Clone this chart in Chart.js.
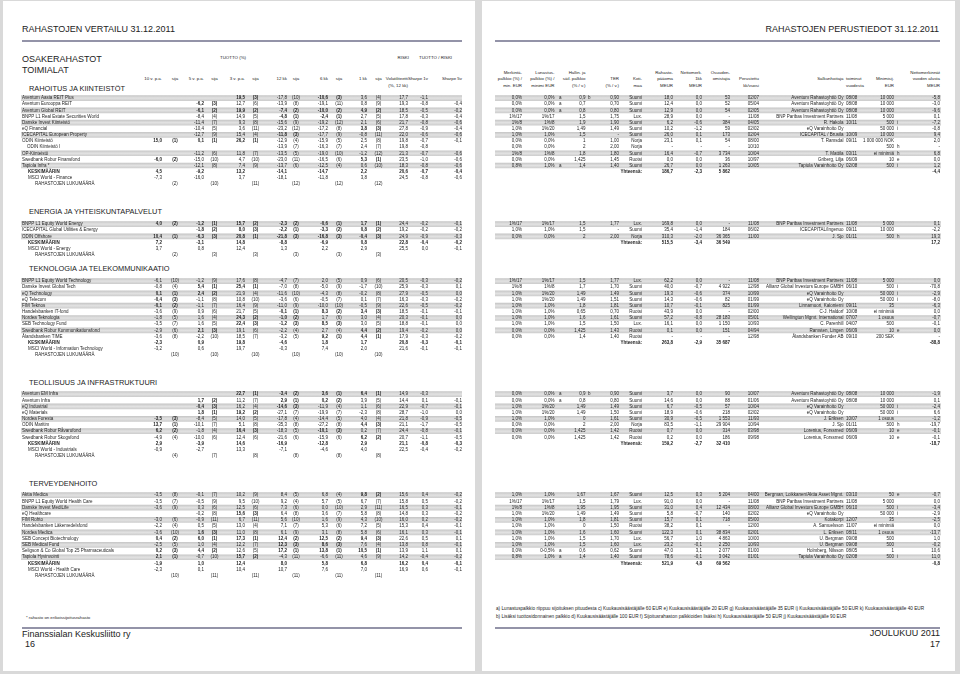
<!DOCTYPE html>
<html lang="fi">
<head>
<meta charset="utf-8">
<title>Rahastojen vertailu 31.12.2011</title>
<script src="https://cdn.jsdelivr.net/npm/chart.js@4.4.0/dist/chart.umd.min.js"></script>
<style>
  html, body { margin: 0; padding: 0; }
  body { position: relative; width: 960px; height: 674px; overflow: hidden; background: #d9d9d9;
         font-family: "Liberation Sans", Arial, Helvetica, sans-serif; color: #222; }
  .page { position: absolute; top: 1px; height: 670px; background: #fff; }
  .rule { position: absolute; height: 2px; background: #9393a8; }
  .t { position: absolute; white-space: nowrap; line-height: 1; }
  canvas { position: absolute; left: 0; }
</style>
</head>
<body>
<div class="page" style="left:3px;width:472px"></div>
<div class="page" style="left:482px;width:473px"></div>
<div class="rule" style="left:22px;width:440px;top:40px"></div>
<div class="rule" style="left:495px;width:445px;top:40px"></div>
<div class="rule" style="left:22px;width:440px;top:627px"></div>
<div class="rule" style="left:495px;width:445px;top:627px"></div>
<script>
// returns rows: 10 v, sija, 5 v, sija, 3 v, sija, 12 kk, sija, 6 kk, sija, 1 kk, sija
// risk rows: volatiliteetti, sharpe 1v, sharpe 5v
// basics rows: merkintä, lunastus, hallin., TER, kotimaa, pääoma, nettomerk. 1kk, osuudenomistajia,
//              perustettu, salkunhoitaja, minimisij., nettomerkinnät vuoden alusta

// --- RAHOITUS JA KIINTEISTÖT ---
const finFunds = ['Aventum Aasia REIT Plus', 'Aventum Eurooppa REIT', 'Aventum Global REIT',
  'BNPP L1 Real Estate Securities World', 'Danske Invest Kiinteistö', 'eQ Financial',
  'ICECAPITAL European Property', 'ODIN Kiinteistö', 'ODIN Kiinteistö I', 'OP-Kiinteistö',
  'Swedbank Robur Finansfond', 'Tapiola Infra *'];
const finSubRows = [8];
const finReturns = [
  [null, null, null, null, 19.5, 3, -17.8, 10, -10.6, 3, 3.6, 4],
  [null, null, -6.2, 3, 12.7, 6, -13.9, 8, -19.1, 11, 0.8, 9],
  [null, null, -6.1, 2, 19.9, 2, -7.4, 2, -10.0, 2, 4.9, 2],
  [null, null, -8.4, 4, 14.9, 5, -4.8, 1, -2.4, 1, 2.7, 5],
  [null, null, -11.4, 7, 9.3, 8, -15.6, 9, -19.2, 12, 2.1, 6],
  [null, null, -10.4, 5, 3.6, 11, -23.2, 12, -17.2, 8, 3.8, 3],
  [null, null, -12.7, 9, 15.4, 4, -11.8, 3, -17.7, 9, -0.8, 11],
  [15.0, 1, 0.1, 1, 26.2, 1, -12.9, 4, -15.9, 5, 2.5, 8],
  [null, null, null, null, null, null, -13.9, 7, -16.3, 7, 2.4, 7],
  [null, null, -11.2, 6, 11.8, 7, -13.5, 5, -19.0, 10, -1.2, 12],
  [-6.0, 2, -15.0, 10, 4.7, 10, -23.0, 11, -16.5, 6, 5.3, 1],
  [null, null, -12.1, 8, 7.4, 9, -13.7, 6, -12.5, 4, 0.6, 10]
];
const finRisk = [[17.7, -1.1, null], [19.3, -0.8, -0.4], [18.5, -0.5, -0.2], [17.8, -0.3, -0.4],
  [21.7, -0.8, -0.6], [27.8, -0.9, -0.4], [22.0, -0.6, -0.6], [19.8, -0.7, -0.1], [19.8, -0.8, null],
  [21.3, -0.7, -0.6], [23.5, -1.0, -0.6], [18.3, -0.8, -0.6]];
const finAvg = [4.5, -9.2, 13.2, -14.1, -14.7, 2.2, 20.6, -0.7, -0.4];
const finIndexName = 'MSCI World - Finance';
const finIndex = [-7.3, -16.0, 3.7, -18.1, -11.8, 3.8, 24.5, -0.8, -0.6];
const finCount = [2, 10, 11, 12, 12, 12];
const finBasics = [
  ['0,0%', '0,0% a', '0,9 b', '0,90', 'Suomi', '18,0', '0,0', '53', '02/07', 'Aventum Rahastoyhtiö Oy 08/08', '10 000', '-5,8'],
  ['0,0%', '0,0% a', '0,7', '0,70', 'Suomi', '12,4', '0,0', '52', '05/04', 'Aventum Rahastoyhtiö Oy 08/08', '10 000', '-3,0'],
  ['0,0%', '0,0% a', '0,8', '0,80', 'Suomi', '12,9', '0,0', '54', '02/05', 'Aventum Rahastoyhtiö Oy 08/08', '10 000', '-9,6'],
  ['1%/17', '1%/17', '1,5', '1,75', 'Lux.', '28,9', '0,0', '-', '11/08', 'BNP Paribas Investment Partners 11/08', '5 000', '0,1'],
  ['1%/8', '1%/8', '1,9', '1,90', 'Suomi', '6,2', '-0,6', '384', '04/05', 'R. Hakola 10/11', '500 i', '-7,2'],
  ['1,0%', '1%/20', '1,49', '1,49', 'Suomi', '10,2', '-1,2', '59', '02/02', 'eQ Varainhoito Oy', '50 000 i', '-0,8'],
  ['1,0%', '1,0%', '1,5', '-', 'Suomi', '26,0', '0,1', '173', '02/04', 'ICECAPITAL / Brusila 10/09', '10 000', '9,4'],
  ['0,0%', '0,0%', '1', '1,00', 'Norja', '23,1', '0,1', '54', '08/00', 'T. Ramsdal 09/11', '1 000 000 NOK', '2,0'],
  ['0,0%', '0,0%', '2', '2,00', 'Norja', '-', '-', '-', '10/10', '', '500 h', '-'],
  ['1%/8', '1%/8', '1,8', '1,80', 'Suomi', '16,4', '-0,7', '3 734', '10/04', 'T. Mattila 03/11', 'ei minimiä h', '6,8'],
  ['0,0%', '0,0%', '1,425', '1,45', 'Ruotsi', '0,0', '0,0', '36', '10/97', 'Griberg, Lilja 06/09', '10 e', '0,0'],
  ['0,8%', '1,0% a', '1,4', '1,40', 'Suomi', '26,7', '0,0', '1 263', '10/05', 'Tapiola Varainhoito Oy 02/08', '500 i', '1,2']
];
const finTotal = ['186,7', '-2,3', '5 862', '-4,4'];

// --- ENERGIA JA YHTEISKUNTAPALVELUT ---
const enFunds = ['BNPP L1 Equity World Energy', 'ICECAPITAL Global Utilities & Energy', 'ODIN Offshore'];
const enReturns = [
  [4.0, 2, -1.2, 1, 15.7, 2, -2.3, 2, -0.6, 1, 1.7, 1],
  [null, null, -1.8, 2, 8.0, 3, -2.2, 1, -3.3, 2, 0.8, 2],
  [10.4, 1, -6.3, 3, 20.8, 1, -21.8, 3, -16.8, 3, -0.4, 3]
];
const enRisk = [[24.4, -0.2, -0.1], [19.2, -0.2, -0.2], [24.9, -0.9, -0.3]];
const enAvg = [7.2, -3.1, 14.8, -8.8, -6.9, 0.8, 22.8, -0.4, -0.2];
const enIndexName = 'MSCI World - Energy';
const enIndex = [3.7, 0.8, 12.4, 1.3, 2.2, 2.9, 25.5, 0.0, -0.1];
const enCount = [2, 3, 3, 3, 3, 3];
const enBasics = [
  ['1%/17', '1%/17', '1,5', '1,77', 'Lux.', '169,8', '0,0', '-', '11/08', 'BNP Paribas Investment Partners 11/08', '5 000', '0,1'],
  ['1,0%', '1,0%', '1,5', '-', 'Suomi', '35,4', '-1,4', '184', '06/02', 'ICECAPITAL/Ingenuo 09/11', '10 000', '-2,2'],
  ['0,0%', '0,0%', '2', '2,00', 'Norja', '310,3', '-2,0', '36 365', '11/00', 'J. Sjo 01/11', '500 h', '19,3']
];
const enTotal = ['515,5', '-3,4', '36 549', '17,2'];

// --- TEKNOLOGIA JA TELEKOMMUNIKAATIO ---
const techFunds = ['BNPP L1 Equity World Technology', 'Danske Invest Global Tech', 'eQ Technology',
  'eQ Telecom', 'FIM Teknos', 'Handelsbanken IT-fond', 'Nordea Teknologia', 'SEB Technology Fund',
  'Swedbank Robur Kommunikationsfond', 'Ålandsbanken TIME'];
const techReturns = [
  [-6.1, 10, -1.2, 9, 17.6, 8, -4.7, 7, 2.0, 5, 0.9, 6],
  [-0.8, 4, 5.4, 1, 25.4, 1, -7.0, 8, -5.0, 9, -1.7, 10],
  [0.1, 1, 2.4, 2, 21.9, 4, -11.6, 10, -4.3, 8, -0.2, 8],
  [-0.4, 3, -1.1, 8, 10.8, 10, -3.6, 6, -0.5, 7, 0.1, 7],
  [-0.1, 2, -1.1, 7, 16.4, 9, -11.0, 9, -10.0, 10, -0.5, 9],
  [-3.6, 9, 0.9, 6, 21.7, 5, -0.1, 1, 8.3, 2, 3.4, 3],
  [-1.8, 5, 1.6, 4, 24.3, 2, -1.0, 2, 1.7, 6, 3.0, 4],
  [-3.5, 7, 1.6, 5, 22.4, 3, -1.2, 3, 8.5, 3, 3.0, 5],
  [-2.9, 6, 2.1, 3, 19.1, 6, -2.2, 4, 2.7, 4, 4.4, 2],
  [-3.6, 8, -2.2, 10, 18.5, 7, -3.2, 5, 9.2, 1, 4.4, 1]
];
const techRisk = [[20.5, -0.3, -0.2], [25.9, -0.3, 0.1], [27.9, -0.5, 0.0], [16.3, -0.3, -0.2],
  [22.6, -0.5, -0.2], [18.5, -0.1, -0.1], [20.3, -0.1, 0.0], [18.8, -0.1, 0.0], [19.4, -0.2, 0.0],
  [17.9, -0.3, -0.2]];
const techAvg = [-2.3, 0.9, 19.8, -4.6, 1.8, 1.7, 20.8, -0.3, -0.1];
const techIndexName = 'MSCI World - Information Technology';
const techIndex = [-3.2, 0.6, 19.7, -0.3, 7.4, 2.0, 21.6, -0.1, -0.1];
const techCount = [10, 10, 10, 10, 10, 10];
const techBasics = [
  ['1%/17', '1%/17', '1,5', '1,77', 'Lux.', '62,2', '0,0', '-', '11/08', 'BNP Paribas Investment Partners 11/08', '5 000', '0,0'],
  ['1%/8', '1%/8', '1,7', '1,70', 'Suomi', '40,0', '-0,7', '4 922', '12/98', 'Allianz Global Investors Europe GMBH 06/10', '500 i', '-70,8'],
  ['1,0%', '1%/20', '1,49', '1,49', 'Suomi', '19,3', '-0,6', '374', '10/99', 'eQ Varainhoito Oy', '50 000 i', '-2,9'],
  ['1,0%', '1%/20', '1,49', '1,51', 'Suomi', '14,3', '-0,6', '82', '01/99', 'eQ Varainhoito Oy', '50 000 i', '-8,0'],
  ['1,0%', '1,0%', '1,8', '1,81', 'Suomi', '10,7', '-0,1', '825', '01/99', 'Linnamuori, Kaloniemi 09/11', '35', '-6,3'],
  ['1,0%', '1,0%', '0,65', '0,70', 'Ruotsi', '43,9', '0,0', '-', '02/00', 'C-J. Haldorf 10/08', 'ei minimiä', '0,0'],
  ['1,0%', '1,0%', '1,6', '1,61', 'Suomi', '57,2', '-0,8', '28 183', '05/01', 'Wellington Mgmt. International 07/07', '1 osuus', '-0,7'],
  ['1,0%', '1,0%', '1,5', '1,50', 'Lux.', '16,1', '0,0', '1 150', '10/93', 'C. Parenhill 04/07', '500', '-0,1'],
  ['0,0%', '0,0%', '1,425', '1,43', 'Ruotsi', '0,1', '0,0', '151', '04/94', 'Ramsten, Lingen 06/09', '10 e', '0,0'],
  ['0,0%', '0,0%', '1,4', '1,40', 'Ruotsi', '-', '-', '-', '12/98', 'Ålandsbanken Fonder AB 09/10', '200 SEK', '-']
];
const techTotal = ['263,8', '-2,9', '35 687', '-88,8'];

// --- TEOLLISUUS JA INFRASTRUKTUURI ---
const indFunds = ['Aventum EM Infra', 'Aventum Infra', 'eQ Industrial', 'eQ Materials', 'Nordea Foresta',
  'ODIN Maritim', 'Swedbank Robur Råvarufond', 'Swedbank Robur Skogsfond'];
const indReturns = [
  [null, null, null, null, 22.7, 1, -3.4, 2, 3.6, 1, 6.4, 1],
  [null, null, 1.7, 2, 11.2, 7, 2.9, 1, 0.2, 2, 3.9, 5],
  [null, null, -0.4, 3, 16.2, 4, -14.6, 3, -11.9, 4, 1.1, 6],
  [null, null, 1.8, 1, 19.2, 2, -27.1, 7, -19.9, 7, -2.3, 8],
  [-3.5, 3, -8.4, 5, 14.0, 5, -17.8, 4, -14.4, 5, 4.0, 4],
  [13.7, 1, -10.1, 7, 5.1, 8, -35.3, 8, -27.2, 8, 4.4, 3],
  [6.2, 2, -1.8, 4, 16.4, 3, -18.3, 5, -10.1, 3, 0.2, 7],
  [-4.9, 4, -10.0, 6, 12.4, 6, -21.6, 6, -15.9, 6, 6.2, 2]
];
const indRisk = [[14.9, -0.3, null], [14.4, 0.1, -0.1], [22.9, -0.7, -0.1], [28.7, -1.0, 0.0],
  [21.8, -0.9, -0.5], [21.1, -1.7, -0.5], [24.4, -0.8, -0.1], [20.7, -1.1, -0.5]];
const indAvg = [2.9, -3.9, 14.6, -16.9, -12.8, 2.9, 21.1, -0.8, -0.3];
const indIndexName = 'MSCI World - Industrials';
const indIndex = [-0.9, -2.7, 13.3, -7.1, -4.6, 4.0, 22.5, -0.4, -0.2];
const indCount = [4, 7, 8, 8, 8, 8];
const indBasics = [
  ['0,0%', '0,0% a', '0,9 b', '0,90', 'Suomi', '3,7', '0,0', '90', '10/07', 'Aventum Rahastoyhtiö Oy 08/08', '10 000', '-1,9'],
  ['0,0%', '0,0% a', '0,8', '0,80', 'Suomi', '14,6', '0,0', '88', '01/06', 'Aventum Rahastoyhtiö Oy 08/08', '10 000', '0,1'],
  ['1,0%', '1%/20', '1,49', '1,49', 'Suomi', '6,7', '-0,5', '57', '10/04', 'eQ Varainhoito Oy', '50 000 i', '-2,4'],
  ['1,0%', '1%/20', '1,49', '1,50', 'Suomi', '18,9', '-0,6', '218', '02/02', 'eQ Varainhoito Oy', '50 000 i', '6,6'],
  ['1,0%', '1,0%', '0', '1,61', 'Suomi', '30,9', '-0,5', '1 553', '11/93', 'J. Eriksen 10/07', '1 osuus', '-1,2'],
  ['0,0%', '0,0%', '2', '2,00', 'Norja', '83,5', '-1,1', '29 904', '10/94', 'J. Sjo 01/11', '500 h', '-19,7'],
  ['0,0%', '0,0%', '1,425', '1,42', 'Ruotsi', '0,7', '0,0', '314', '03/98', 'Lorenius, Forssmed 06/09', '10 e', '-0,1'],
  ['0,0%', '0,0%', '1,425', '1,42', 'Ruotsi', '0,2', '0,0', '186', '09/98', 'Lorenius, Forssmed 06/09', '10 e', '-0,1']
];
const indTotal = ['159,2', '-2,7', '32 410', '-18,7'];

// --- TERVEYDENHOITO ---
const healthFunds = ['Aktia Medica', 'BNPP L1 Equity World Health Care', 'Danske Invest MediLife',
  'eQ Healthcare', 'FIM Rohto', 'Handelsbanken Läkemedelsfond', 'Nordea Medica',
  'SEB Concept Biotechnology', 'SEB Medical Fund', 'Seligson & Co Global Top 25 Pharmaceuticals',
  'Tapiola Hyvinvointi'];
const healthReturns = [
  [-3.5, 8, -0.1, 7, 10.2, 9, 8.4, 5, 6.8, 4, 9.8, 2],
  [-3.5, 7, -0.5, 9, 9.5, 10, 9.2, 4, 5.7, 5, 6.7, 7],
  [-3.6, 9, 0.3, 6, 12.5, 6, 7.3, 6, 0.0, 10, 2.9, 11],
  [null, null, -0.2, 8, 15.6, 3, 6.4, 8, 3.6, 7, 5.8, 8],
  [-3.0, 6, -0.9, 11, 6.7, 11, 5.6, 10, 1.6, 9, 4.3, 10],
  [-2.2, 4, 0.5, 5, 13.0, 4, 7.1, 7, 5.3, 6, 7.2, 5],
  [-3.6, 10, 1.6, 3, 11.0, 8, 6.1, 9, 3.1, 8, 5.8, 6],
  [0.4, 2, 6.0, 1, 17.3, 1, 12.4, 2, 12.5, 2, 9.4, 3],
  [-2.5, 5, 1.0, 4, 12.2, 7, 12.3, 3, 8.6, 3, 7.6, 4],
  [0.2, 3, 4.4, 2, 12.6, 5, 17.2, 1, 13.8, 1, 10.5, 1],
  [2.1, 1, -0.7, 10, 15.7, 2, -4.3, 11, -6.6, 11, 4.6, 9]
];
const healthRisk = [[15.6, 0.4, -0.2], [15.8, 0.5, -0.2], [16.5, 0.3, -0.1], [14.8, 0.3, -0.2],
  [16.0, 0.2, -0.2], [15.3, 0.4, -0.1], [16.1, 0.3, -0.1], [22.6, 0.5, 0.1], [13.8, 0.8, -0.1],
  [13.9, 1.1, 0.1], [14.2, -0.4, -0.2]];
const healthAvg = [-1.9, 1.0, 12.4, 8.0, 5.8, 6.8, 16.2, 0.4, -0.1];
const healthIndexName = 'MSCI World - Health Care';
const healthIndex = [-2.3, 0.1, 10.4, 10.7, 7.6, 7.0, 16.9, 0.6, -0.1];
const healthCount = [10, 11, 11, 11, 11, 11];
const healthBasics = [
  ['1,0%', '1,0%', '1,67', '1,67', 'Suomi', '12,5', '0,3', '5 204', '04/00', 'Bergman, Loikkanen/Aktia Asset Mgmt. 03/10', '50 e', '-0,7'],
  ['1%/17', '1%/17', '1,5', '1,79', 'Lux.', '91,0', '0,0', '-', '11/08', 'BNP Paribas Investment Partners 11/08', '5 000', '0,0'],
  ['1%/8', '1%/8', '1,95', '1,95', 'Suomi', '31,0', '0,4', '12 434', '08/00', 'Allianz Global Investors Europe GMBH 06/10', '500 i', '-3,4'],
  ['1,0%', '1%/20', '1,49', '1,49', 'Suomi', '5,8', '-0,7', '140', '02/02', 'eQ Varainhoito Oy', '50 000 i', '-2,9'],
  ['1,0%', '1,0%', '1,8', '1,81', 'Suomi', '15,7', '0,1', '718', '05/00', 'Kotakorpi 12/07', '35', '-2,5'],
  ['1,0%', '1,0%', '0', '1,50', 'Ruotsi', '38,2', '0,1', '-', '12/00', 'A. Samuelsson 11/07', 'ei minimiä', '0,0'],
  ['1,0%', '1,0%', '1,6', '1,60', 'Suomi', '122,3', '0,1', '38 834', '02/01', 'L. Eriksen 08/11', '1 osuus', '-13,7'],
  ['1,0%', '1,0%', '1,5', '1,70', 'Lux.', '56,7', '1,0', '4 863', '10/00', 'U. Bergman 09/08', '500', '1,0'],
  ['1,0%', '1,0%', '1,5', '1,60', 'Lux.', '23,2', '-0,1', '2 250', '10/93', 'U. Bergman 09/08', '500', '-0,2'],
  ['0,0%', '0-0,5% a', '0,6', '0,62', 'Suomi', '47,0', '3,1', '2 077', '01/00', 'Holmberg, Nilsson 08/05', '1', '10,6'],
  ['0,8%', '1,0% a', '1,4', '1,40', 'Suomi', '78,6', '-0,1', '3 042', '01/01', 'Tapiola Varainhoito Oy 02/08', '500 i', '11,0']
];
const healthTotal = ['521,9', '4,8', '69 562', '-0,8'];

// header texts
const retHeads = ['10 v. p.a.', '5 v. p.a.', '3 v. p.a.', '12 kk', '6 kk', '1 kk'];
const riskHeads = ['Volatiliteetti', 'Sharpe 1v', 'Sharpe 5v'];
const basicHeads = [
  ['Merkintä-', 'palkkio (%) /', 'min. EUR'],
  ['Lunastus-', 'palkkio (%) /', 'minimi EUR'],
  ['Hallin. ja', 'säil. palkkio', '(% / v.)'],
  ['', 'TER', '(% / v.)'],
  ['', 'Koti-', 'maa'],
  ['Rahasto-', 'pääoma', 'MEUR'],
  ['Nettomerk.', '1kk', 'MEUR'],
  ['Osuuden-', 'omistajia', ''],
  ['', 'Perustettu', 'kk/vuosi'],
  ['', '', ''],
  ['', 'Minimisij.', 'EUR'],
  ['Nettomerkinnät', 'vuoden alusta', 'MEUR']
];

// ---- layout ----
const FONT = '"Liberation Sans", Arial, Helvetica, sans-serif';
const CELL_SIZE = 4.5;
const HEAD_SIZE = 4.4;
const NAME_X = 22, SUB_X = 27, SUM_X = 28, COUNT_X = 35;
const RET_X = [162, 204, 245, 287, 328, 367];
const RANK_X = [175, 214.5, 255.5, 296, 339, 378.5];
const RISK_X = [408, 428, 462];
const BASIC_X = [522, 554.5, 585.5, 619, 642, 673, 702, 730, 759, 843.5, 894, 940];
const SALK_DATE_X = 846;
const NOTE_GAP = { 1: 4.5, 2: 2.5, 10: 3 };
const STRIPE_L = [21, 462];
const STRIPE_R = [495, 941];

const sections = [
  { title: 'RAHOITUS JA KIINTEISTÖT', titleY: 88.3, top: 95, height: 92, funds: finFunds, sub: finSubRows,
    returns: finReturns, risk: finRisk, avg: finAvg, indexName: finIndexName, index: finIndex,
    count: finCount, basics: finBasics, total: finTotal },
  { title: 'ENERGIA JA YHTEISKUNTAPALVELUT', titleY: 211.7, top: 221, height: 37, funds: enFunds, sub: [],
    returns: enReturns, risk: enRisk, avg: enAvg, indexName: enIndexName, index: enIndex,
    count: enCount, basics: enBasics, total: enTotal },
  { title: 'TEKNOLOGIA JA TELEKOMMUNIKAATIO', titleY: 269, top: 278, height: 80, funds: techFunds, sub: [],
    returns: techReturns, risk: techRisk, avg: techAvg, indexName: techIndexName, index: techIndex,
    count: techCount, basics: techBasics, total: techTotal },
  { title: 'TEOLLISUUS JA INFRASTRUKTUURI', titleY: 382.7, top: 391, height: 68, funds: indFunds, sub: [],
    returns: indReturns, risk: indRisk, avg: indAvg, indexName: indIndexName, index: indIndex,
    count: indCount, basics: indBasics, total: indTotal },
  { title: 'TERVEYDENHOITO', titleY: 484, top: 492, height: 87, funds: healthFunds, sub: [],
    returns: healthReturns, risk: healthRisk, avg: healthAvg, indexName: healthIndexName, index: healthIndex,
    count: healthCount, basics: healthBasics, total: healthTotal }
];

const fmt = v => (v === null || v === undefined) ? '' : v.toFixed(1).replace('.', ',');

function text(str, x, y, size, align, bold) {
  const d = document.createElement('div');
  d.className = 't';
  d.textContent = str;
  d.style.fontSize = size + 'px';
  d.style.top = (y - size / 2) + 'px';
  if (align === 'right') d.style.right = (960 - x) + 'px';
  else if (align === 'center') { d.style.left = x + 'px'; d.style.transform = 'translateX(-50%)'; }
  else d.style.left = x + 'px';
  if (bold) d.style.fontWeight = 'bold';
  document.body.appendChild(d);
}

// page titles and headers
text('RAHASTOJEN VERTAILU 31.12.2011', 22, 29, 9);
text('RAHASTOJEN PERUSTIEDOT 31.12.2011', 939, 29, 9, 'right');
text('OSAKERAHASTOT', 22, 59, 9);
text('TOIMIALAT', 22, 70, 9);
text('TUOTTO (%)', 220, 58, HEAD_SIZE);
text('RISKI', 409, 58, HEAD_SIZE, 'right');
text('TUOTTO / RISKI', 419, 58, HEAD_SIZE);
retHeads.forEach((h, k) => {
  text(h, RET_X[k], 79.5, HEAD_SIZE, 'right');
  text('sija', RANK_X[k], 79.5, HEAD_SIZE, 'center');
});
riskHeads.forEach((h, k) => text(h, RISK_X[k], 79.5, HEAD_SIZE, 'right'));
text('(%, 12 kk)', RISK_X[0], 86, HEAD_SIZE, 'right');
basicHeads.forEach((lines, k) => {
  lines.forEach((h, l) => { if (h) text(h, BASIC_X[k], 73 + l * 6.5, HEAD_SIZE, 'right'); });
});
text('Salkunhoitaja', BASIC_X[9], 79.5, HEAD_SIZE, 'right');
text('toiminut', SALK_DATE_X, 79.5, HEAD_SIZE);
text('vuodesta', SALK_DATE_X, 86, HEAD_SIZE);
sections.forEach(s => text(s.title, 29, s.titleY, 7.4));

// footers
text('* rahasto on erikoissijoitusrahasto', 26, 617.7, 4.3);
text('Finanssialan Keskusliitto ry', 22, 634.3, 9);
text('16', 25, 644.5, 9);
text('a) Lunastuspalkkio riippuu sijoituksen pituudesta c) Kuukausisäästäjälle 60 EUR e) Kuukausisäästäjälle 20 EUR g) Kuukausisäästäjälle 35 EUR i) Kuukausisäästäjälle 50 EUR k) Kuukausisäästäjälle 40 EUR', 496, 609.3, 4.7);
text('b) Lisäksi tuottosidonnainen palkkio d) Kuukausisäästäjälle 100 EUR f) Sijoitusrahaston palkkioiden lisäksi h) Kuukausisäästäjälle 50 EUR j) Kuukausisäästäjälle 90 EUR', 496, 617.3, 4.7);
text('JOULUKUU 2011', 940, 633.5, 9, 'right');
text('17', 940, 644.5, 9, 'right');

function addBasic(add, row, col, t) {
  if (!t) return;
  if (col === 9) {
    const m = t.match(/^(.*) (\d\d\/\d\d)$/);
    if (m) { add(row, BASIC_X[9], m[1], 'right'); add(row, SALK_DATE_X, m[2], 'left'); }
    else add(row, BASIC_X[9], t, 'right');
    return;
  }
  const m = t.match(/^(.*\S) ([a-k])$/);
  if (m && NOTE_GAP[col] !== undefined) {
    add(row, BASIC_X[col], m[1], 'right');
    add(row, BASIC_X[col] + NOTE_GAP[col], m[2], 'left');
    return;
  }
  add(row, BASIC_X[col], t, 'right');
}

function buildCells(s) {
  const cells = [];
  const add = (row, x, str, align, bold) => cells.push({ row, x, str, align, bold: !!bold });
  const n = s.funds.length;
  s.funds.forEach((name, i) => {
    add(i, s.sub.includes(i) ? SUB_X : NAME_X, name, 'left');
    for (let k = 0; k < 6; k++) {
      const v = s.returns[i][2 * k], r = s.returns[i][2 * k + 1];
      if (v === null) continue;
      add(i, RET_X[k], fmt(v), 'right', r <= 3);
      add(i, RANK_X[k], '(' + r + ')', 'center', r <= 3);
    }
    s.risk[i].forEach((v, k) => { if (v !== null) add(i, RISK_X[k], fmt(v), 'right'); });
    s.basics[i].forEach((t, k) => addBasic(add, i, k, t));
  });
  const valX = RET_X.concat(RISK_X);
  add(n, SUM_X, 'KESKIMÄÄRIN', 'left', true);
  s.avg.forEach((v, k) => add(n, valX[k], fmt(v), 'right', true));
  add(n + 1, SUM_X, s.indexName, 'left');
  s.index.forEach((v, k) => add(n + 1, valX[k], fmt(v), 'right'));
  add(n + 2, COUNT_X, 'RAHASTOJEN LUKUMÄÄRÄ', 'left');
  s.count.forEach((c, k) => add(n + 2, RANK_X[k], '(' + c + ')', 'center'));
  add(n, BASIC_X[4], 'Yhteensä:', 'right', true);
  [5, 6, 7, 11].forEach((col, k) => add(n, BASIC_X[col], s.total[k], 'right', true));
  return cells;
}

function drawCells(chart, cells) {
  const { ctx, scales: { x, y } } = chart;
  ctx.save();
  ctx.fillStyle = '#1e1e1e';
  ctx.textBaseline = 'middle';
  cells.forEach(c => {
    ctx.font = (c.bold ? 'bold ' : '') + CELL_SIZE + 'px ' + FONT;
    ctx.textAlign = c.align;
    ctx.fillText(c.str, x.getPixelForValue(c.x), y.getPixelForValue(c.row));
  });
  ctx.restore();
}

// stripe colour: soft vertical gradient across each shaded row
function stripeFill(c) {
  const chart = c.chart;
  const y = chart.scales && chart.scales.y;
  if (!y || c.dataIndex === undefined) return '#d4d4d4';
  const yc = y.getPixelForValue(c.dataIndex);
  const h = chart.height / chart.data.labels.length;
  if (!isFinite(yc) || !isFinite(h)) return '#d4d4d4';
  const g = chart.ctx.createLinearGradient(0, yc - h / 2, 0, yc + h / 2);
  g.addColorStop(0, '#c2c2c2');
  g.addColorStop(0.5, '#e2e2e2');
  g.addColorStop(1, '#cacaca');
  return g;
}

sections.forEach(s => {
  const labels = s.funds.concat(['KESKIMÄÄRIN', s.indexName, 'RAHASTOJEN LUKUMÄÄRÄ']);
  let k = 0;
  const striped = s.funds.map((f, i) => s.sub.includes(i) ? false : (k++ % 2 === 0));
  const cells = buildCells(s);

  const canvas = document.createElement('canvas');
  canvas.width = 960;
  canvas.height = s.height;
  canvas.style.top = s.top + 'px';
  document.body.appendChild(canvas);

  const stripeSet = span => ({
    data: labels.map((l, i) => striped[i] ? span : null),
    backgroundColor: stripeFill,
    borderWidth: 0,
    barPercentage: 0.92,
    categoryPercentage: 1,
    grouped: false
  });

  new Chart(canvas, {
    type: 'bar',
    data: { labels: labels, datasets: [stripeSet(STRIPE_L), stripeSet(STRIPE_R)] },
    options: {
      indexAxis: 'y',
      responsive: false,
      animation: false,
      events: [],
      layout: { padding: 0 },
      plugins: { legend: { display: false }, tooltip: { enabled: false }, title: { display: false } },
      scales: {
        x: { type: 'linear', min: 0, max: 960, display: false },
        y: { type: 'category', display: false }
      }
    },
    plugins: [{ id: 'tableCells', afterDatasetsDraw: chart => drawCells(chart, cells) }]
  });
});
</script>
</body>
</html>
